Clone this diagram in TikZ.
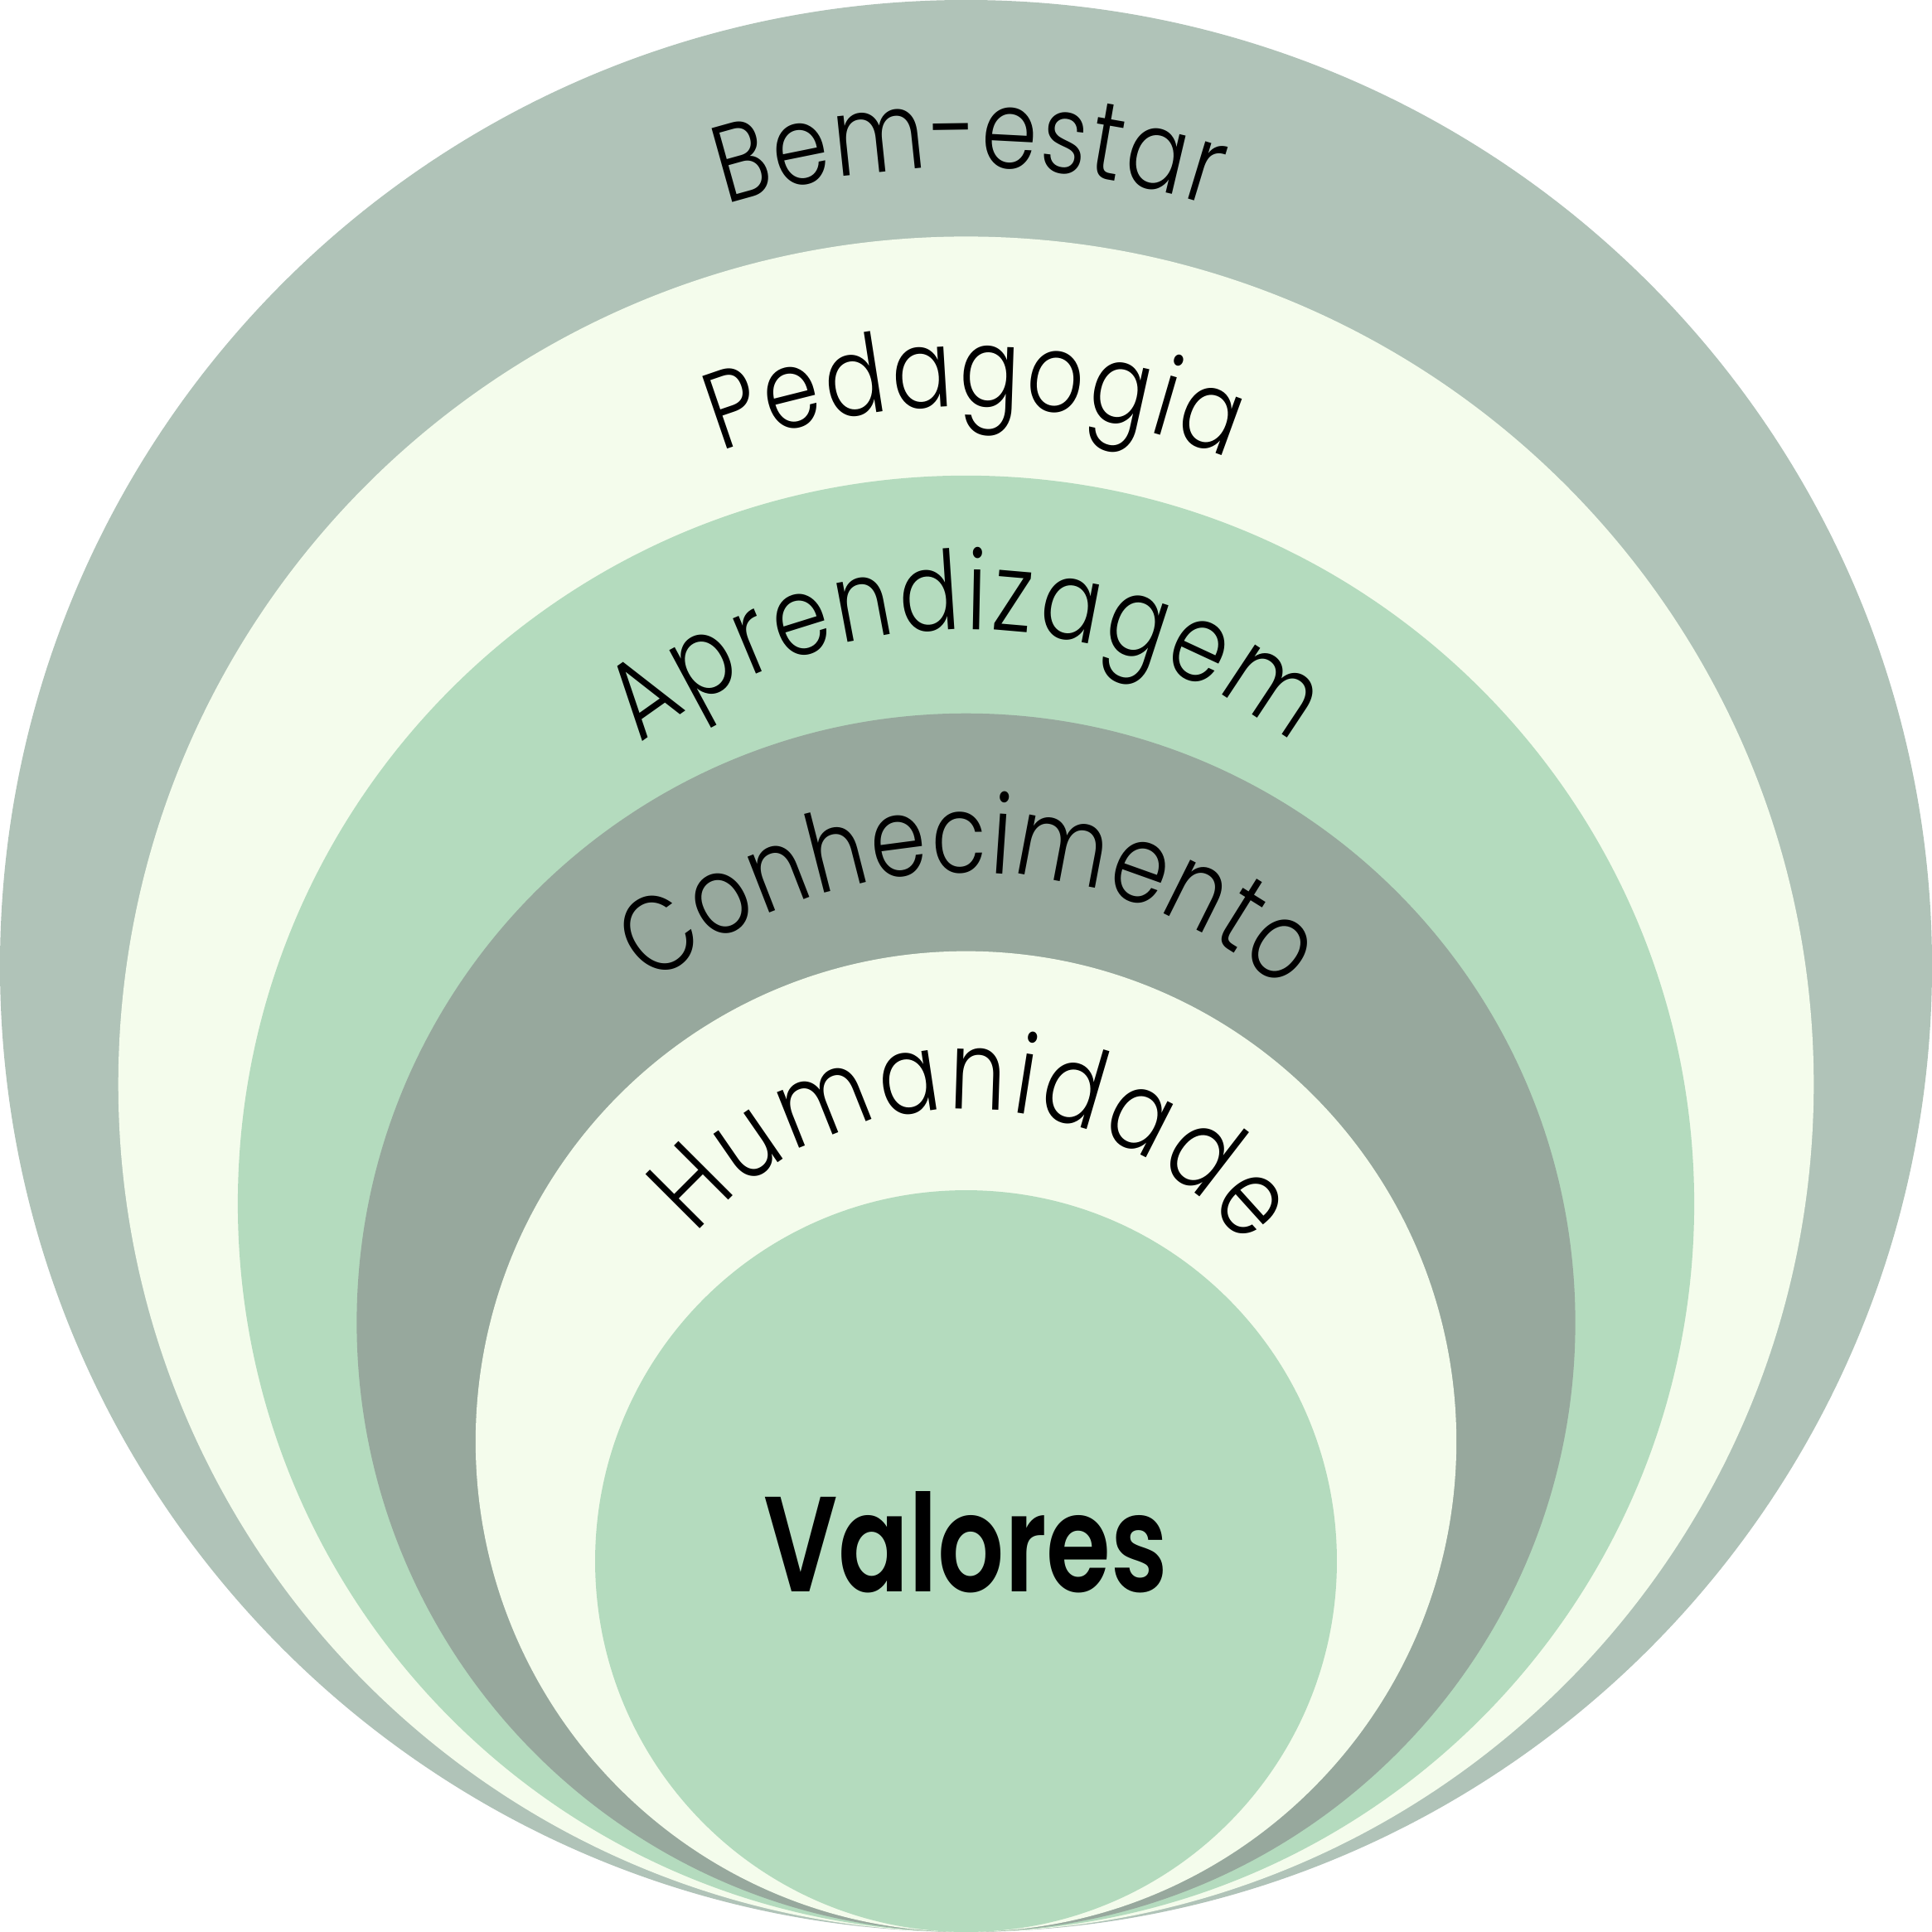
\documentclass[tikz,border=0pt]{standalone}
\usepackage{fontspec}
\setmainfont{Poppins}
\newfontfamily\arcfont{Poppins Light}[FakeStretch=0.82]
\newfontfamily\valfont{Poppins SemiBold}[FakeStretch=0.77]
\usetikzlibrary{decorations.text}
\definecolor{ringA}{HTML}{B0C3B8}
\definecolor{ringB}{HTML}{F4FCEC}
\definecolor{ringC}{HTML}{B4DBBE}
\definecolor{ringD}{HTML}{97A89D}
\tikzset{
  ring/.style={draw=none},
  arctext/.style={decorate, decoration={text along path,
      text={|\arcfont\fontsize{89}{100}\selectfont|#1},
      text align={fit to path}}}
}
\begin{document}
\begin{tikzpicture}[x=1pt,y=1pt]
\useasboundingbox (0,0) rectangle (1568,1568);
\fill[ring,ringA] (784,784) circle[radius=784];
\fill[ring,ringB] (784,688) circle[radius=688];
\fill[ring,ringC] (784,591) circle[radius=591];
\fill[ring,ringD] (784,494.5) circle[radius=494.5];
\fill[ring,ringB] (784,398) circle[radius=398];
\fill[ring,ringC] (784,301) circle[radius=301];
\path[arctext={Bem-estar}] (784,784) ++(107.5:648) arc[start angle=107.5,end angle=72,radius=648];
\path[arctext={Pedagogia}] (784,682) ++(111:556) arc[start angle=111,end angle=67.5,radius=556];
\path[arctext={Aprendizagem}] (784,632.5) ++(128.5:424.5) arc[start angle=128.5,end angle=51.5,radius=424.5];
\path[arctext={Conhecimento}] (784,465) ++(130:395) arc[start angle=130,end angle=49.2,radius=395];
\path[arctext={Humanidade}] (784,382) ++(140:286) arc[start angle=140,end angle=37.5,radius=286];
\node[anchor=base,inner sep=0pt,font=\valfont\fontsize{110}{120}\selectfont] (valores) at (784,276) {Valores};
\end{tikzpicture}
\end{document}
